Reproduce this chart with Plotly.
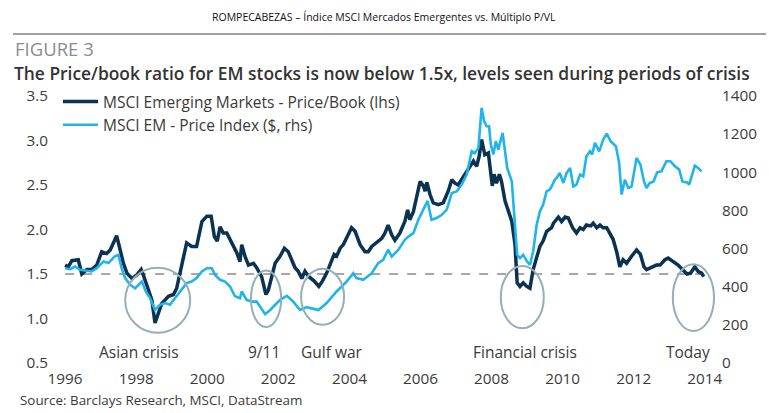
import plotly.graph_objects as go

# ---------------- data ----------------
pb_year = [1996.0, 1996.09, 1996.19, 1996.37, 1996.47, 1996.61, 1996.75, 1996.89,
           1997.03, 1997.17, 1997.27, 1997.36, 1997.45, 1997.55, 1997.64, 1997.74,
           1997.88, 1998.02, 1998.14, 1998.20, 1998.30, 1998.44, 1998.53, 1998.62,
           1998.72, 1998.91, 1999.05, 1999.14, 1999.23, 1999.33, 1999.42, 1999.56,
           1999.70, 1999.85, 1999.99, 2000.11, 2000.20, 2000.28, 2000.36, 2000.45,
           2000.55, 2000.69, 2000.83, 2000.92, 2000.97, 2001.06, 2001.16, 2001.30,
           2001.39, 2001.53, 2001.65, 2001.72, 2001.81, 2001.91, 2002.05, 2002.17,
           2002.28, 2002.38, 2002.47, 2002.56, 2002.66, 2002.75, 2002.86, 2003.01,
           2003.14, 2003.24, 2003.36, 2003.45, 2003.57, 2003.64, 2003.74, 2003.83,
           2003.97, 2004.06, 2004.16, 2004.30, 2004.44, 2004.53, 2004.63, 2004.77,
           2004.91, 2005.00, 2005.09, 2005.19, 2005.28, 2005.42, 2005.56, 2005.64,
           2005.70, 2005.80, 2005.89, 2005.99, 2006.08, 2006.13, 2006.18, 2006.27,
           2006.36, 2006.50, 2006.64, 2006.78, 2006.88, 2006.97, 2007.06, 2007.16,
           2007.30, 2007.39, 2007.49, 2007.58, 2007.65, 2007.72, 2007.81, 2007.91,
           2007.97, 2008.02, 2008.07, 2008.14, 2008.22, 2008.28, 2008.38, 2008.47,
           2008.57, 2008.66, 2008.72, 2008.80, 2008.89, 2008.99, 2009.08, 2009.17,
           2009.27, 2009.36, 2009.45, 2009.55, 2009.69, 2009.74, 2009.88, 2009.97,
           2010.07, 2010.16, 2010.28, 2010.39, 2010.49, 2010.58, 2010.67, 2010.79,
           2010.86, 2010.96, 2011.05, 2011.14, 2011.24, 2011.33, 2011.42, 2011.52,
           2011.61, 2011.70, 2011.80, 2011.94, 2012.08, 2012.19, 2012.29, 2012.36,
           2012.55, 2012.64, 2012.74, 2012.88, 2012.97, 2013.11, 2013.25, 2013.37,
           2013.50, 2013.60, 2013.72, 2013.81, 2013.91, 2013.97]
pb_value = [1.60, 1.58, 1.65, 1.66, 1.50, 1.55, 1.55, 1.60,
            1.75, 1.73, 1.77, 1.85, 1.93, 1.77, 1.62, 1.51,
            1.45, 1.49, 1.55, 1.49, 1.38, 1.21, 0.95, 1.06,
            1.17, 1.25, 1.27, 1.34, 1.51, 1.70, 1.85, 1.81,
            1.81, 2.09, 2.15, 2.15, 1.92, 1.87, 2.03, 1.96,
            1.96, 1.85, 1.74, 1.64, 1.83, 1.70, 1.60, 1.62,
            1.57, 1.47, 1.27, 1.32, 1.47, 1.62, 1.70, 1.79,
            1.75, 1.66, 1.57, 1.53, 1.45, 1.53, 1.47, 1.42,
            1.36, 1.42, 1.51, 1.60, 1.72, 1.70, 1.79, 1.83,
            1.96, 2.02, 1.98, 1.83, 1.75, 1.75, 1.81, 1.85,
            1.90, 1.96, 2.05, 1.94, 1.88, 1.96, 2.09, 2.22,
            2.11, 2.20, 2.37, 2.54, 2.49, 2.43, 2.53, 2.39,
            2.30, 2.28, 2.30, 2.43, 2.56, 2.52, 2.50, 2.56,
            2.64, 2.71, 2.77, 2.71, 2.82, 3.01, 2.84, 2.86,
            2.62, 2.49, 2.62, 2.52, 2.62, 2.54, 2.32, 2.20,
            2.09, 1.83, 1.40, 1.36, 1.40, 1.36, 1.34, 1.55,
            1.68, 1.81, 1.87, 1.98, 2.02, 2.07, 2.14, 2.09,
            2.14, 2.13, 2.02, 1.96, 2.02, 2.00, 2.05, 2.04,
            2.07, 2.02, 2.05, 2.02, 2.02, 1.96, 1.89, 1.75,
            1.58, 1.66, 1.62, 1.70, 1.77, 1.72, 1.58, 1.55,
            1.58, 1.60, 1.60, 1.66, 1.68, 1.64, 1.60, 1.55,
            1.50, 1.51, 1.58, 1.53, 1.51, 1.47]

px_year = [1996.0, 1996.14, 1996.28, 1996.42, 1996.56, 1996.75, 1996.89, 1997.08,
           1997.22, 1997.39, 1997.50, 1997.59, 1997.69, 1997.83, 1997.97, 1998.06,
           1998.16, 1998.27, 1998.39, 1998.53, 1998.67, 1998.81, 1998.95, 1999.09,
           1999.23, 1999.42, 1999.56, 1999.70, 1999.85, 1999.99, 2000.13, 2000.22,
           2000.36, 2000.50, 2000.64, 2000.78, 2000.92, 2000.97, 2001.11, 2001.25,
           2001.39, 2001.63, 2001.77, 2002.05, 2002.24, 2002.42, 2002.61, 2002.80,
           2003.13, 2003.36, 2003.64, 2003.92, 2004.11, 2004.20, 2004.39, 2004.63,
           2004.81, 2004.95, 2005.09, 2005.19, 2005.38, 2005.56, 2005.66, 2005.80,
           2005.94, 2006.08, 2006.15, 2006.20, 2006.31, 2006.45, 2006.60, 2006.74,
           2006.88, 2007.02, 2007.16, 2007.30, 2007.44, 2007.53, 2007.63, 2007.67,
           2007.72, 2007.79, 2007.86, 2007.93, 2007.98, 2008.05, 2008.12, 2008.19,
           2008.31, 2008.38, 2008.44, 2008.57, 2008.66, 2008.72, 2008.80, 2008.89,
           2009.00, 2009.08, 2009.17, 2009.27, 2009.36, 2009.45, 2009.55, 2009.64,
           2009.69, 2009.78, 2009.83, 2009.92, 2010.02, 2010.11, 2010.21, 2010.30,
           2010.39, 2010.49, 2010.58, 2010.67, 2010.77, 2010.83, 2010.91, 2011.03,
           2011.14, 2011.24, 2011.35, 2011.50, 2011.59, 2011.66, 2011.75, 2011.85,
           2011.94, 2012.08, 2012.19, 2012.29, 2012.36, 2012.45, 2012.56, 2012.66,
           2012.78, 2012.92, 2013.03, 2013.16, 2013.28, 2013.37, 2013.50, 2013.56,
           2013.63, 2013.72, 2013.81, 2013.91]
px_value = [497, 492, 506, 489, 485, 480, 497, 532,
            524, 558, 567, 497, 445, 410, 392, 410,
            427, 375, 340, 278, 305, 314, 305, 340,
            375, 419, 427, 445, 480, 497, 497, 462,
            436, 427, 401, 350, 340, 375, 331, 322,
            322, 256, 278, 331, 352, 322, 278, 293,
            278, 314, 375, 427, 471, 445, 436, 471,
            524, 541, 594, 558, 594, 646, 663, 681,
            751, 800, 830, 850, 751, 760, 777, 804,
            891, 900, 935, 988, 1110, 1101, 1128, 1233,
            1338, 1268, 1241, 1241, 1145, 1093, 1163, 1119,
            1206, 1110, 1023, 952, 742, 567, 550, 567,
            532, 515, 585, 725, 795, 830, 900, 909,
            926, 961, 970, 996, 944, 996, 1023, 926,
            935, 988, 979, 1084, 1110, 1093, 1154, 1110,
            1171, 1203, 1163, 1136, 1049, 883, 961, 918,
            926, 1075, 1040, 952, 918, 944, 952, 1000,
            1005, 1058, 1058, 1032, 1014, 952, 947, 935,
            979, 1035, 1023, 1005]

x_ticks = [1996, 1998, 2000, 2002, 2004, 2006, 2008, 2010, 2012, 2014]
y_left_ticks = [0.5, 1.0, 1.5, 2.0, 2.5, 3.0, 3.5]
y_right_ticks = [0, 200, 400, 600, 800, 1000, 1200, 1400]

name_pb = "MSCI Emerging Markets - Price/Book (lhs)"
name_px = "MSCI EM - Price Index ($, rhs)"

crisis_labels = ["Asian crisis", "9/11", "Gulf war", "Financial crisis", "Today"]
crisis_label_x = [1998.08, 2001.6, 2003.5, 2008.95, 2013.52]
crisis_ellipse_x0 = [1997.69, 2001.23, 2002.64, 2008.26, 2013.10]
crisis_ellipse_x1 = [1999.52, 2002.08, 2003.85, 2009.47, 2014.26]
crisis_ellipse_y0 = [0.84, 0.905, 0.93, 0.89, 0.86]
crisis_ellipse_y1 = [1.57, 1.54, 1.56, 1.59, 1.61]

header = "ROMPECABEZAS \u2013 \u00cdndice MSCI Mercados Emergentes vs. M\u00faltiplo P/VL"
fig_label = "FIGURE 3"
subtitle = "The Price/book ratio for EM stocks is now below 1.5x, levels seen during periods of crisis"
source = "Source: Barclays Research, MSCI, DataStream"

# ---------------- styling ----------------
DARK = "#0c3251"
LIGHT = "#1fb4ea"
TXT = "#3a3a3a"
ELL = "#93afb8"
FONT = "Open Sans"

W, H = 769, 413
ML, MR, MT, MB = 58, 50, 96, 50
PW, PH = W - ML - MR, H - MT - MB


def xp(px):
    return (px - ML) / PW


def yp(py):
    return (H - MB - py) / PH


fig = go.Figure()
fig.add_trace(go.Scatter(x=px_year, y=px_value, name=name_px, yaxis="y2",
                         mode="lines", line=dict(color=LIGHT, width=2.6),
                         legendrank=2))
fig.add_trace(go.Scatter(x=pb_year, y=pb_value, name=name_pb, yaxis="y",
                         mode="lines", line=dict(color=DARK, width=3.5),
                         legendrank=1))

shapes = [
    dict(type="line", xref="x", yref="y", x0=1996.0, x1=2014.0, y0=1.5, y1=1.5,
         line=dict(color="#8a8a8a", width=1.3, dash="dash"), layer="below"),
    dict(type="line", xref="paper", yref="paper", x0=xp(13), x1=xp(766),
         y0=yp(34), y1=yp(34), line=dict(color="#a0a0a0", width=2)),
]
for a, b, c, d in zip(crisis_ellipse_x0, crisis_ellipse_x1, crisis_ellipse_y0, crisis_ellipse_y1):
    shapes.append(dict(type="circle", xref="x", yref="y", x0=a, x1=b, y0=c, y1=d,
                       line=dict(color=ELL, width=2), layer="above"))

annotations = []
for lab, lx in zip(crisis_labels, crisis_label_x):
    annotations.append(dict(text=lab, x=lx, y=0.62, xref="x", yref="y",
                            showarrow=False, font=dict(family=FONT, size=15.5, color=TXT),
                            xanchor="center", yanchor="middle"))
annotations += [
    dict(text=header, x=xp(384), y=yp(17), xref="paper", yref="paper", showarrow=False,
         xanchor="center", yanchor="middle", font=dict(family=FONT, size=10.5, color="#111")),
    dict(text=fig_label, x=xp(13), y=yp(48), xref="paper", yref="paper", showarrow=False,
         xanchor="left", yanchor="middle", font=dict(family=FONT, size=18.5, color="#8c8c8c")),
    dict(text=subtitle, x=xp(12), y=yp(73), xref="paper", yref="paper", showarrow=False,
         xanchor="left", yanchor="middle",
         font=dict(family=FONT, size=17.4, color="#333333", weight=600)),
    dict(text=source, x=xp(18), y=yp(400), xref="paper", yref="paper", showarrow=False,
         xanchor="left", yanchor="middle", font=dict(family=FONT, size=13.4, color=TXT)),
]

fig.update_layout(
    width=W, height=H,
    margin=dict(l=ML, r=MR, t=MT, b=MB, pad=0),
    paper_bgcolor="white", plot_bgcolor="white",
    font=dict(family=FONT, size=15, color=TXT),
    showlegend=True,
    legend=dict(x=xp(58), y=yp(85), xanchor="left", yanchor="top",
                bgcolor="rgba(0,0,0,0)", borderwidth=0, traceorder="normal",
                itemwidth=35,
                font=dict(family=FONT, size=15.5, color=TXT)),
    xaxis=dict(range=[1995.8, 2014.4], tickmode="array", tickvals=x_ticks,
               ticktext=[str(t) for t in x_ticks], showgrid=False, zeroline=False,
               showline=False, ticks="", ticklabelstandoff=5,
               tickfont=dict(family=FONT, size=15.3, color=TXT)),
    yaxis=dict(range=[0.5, 3.5], tickmode="array", tickvals=y_left_ticks,
               ticktext=["%.1f" % t for t in y_left_ticks], showgrid=False,
               zeroline=False, showline=False, ticks="", ticklabelstandoff=9,
               tickfont=dict(family=FONT, size=15.3, color=TXT)),
    yaxis2=dict(range=[0, 1400], tickmode="array", tickvals=y_right_ticks,
                ticktext=[str(t) for t in y_right_ticks], overlaying="y", side="right",
                showgrid=False, zeroline=False, showline=False, ticks="",
                ticklabelstandoff=2, tickfont=dict(family=FONT, size=15.3, color=TXT)),
    shapes=shapes,
    annotations=annotations,
)

fig.write_html("out.html")
